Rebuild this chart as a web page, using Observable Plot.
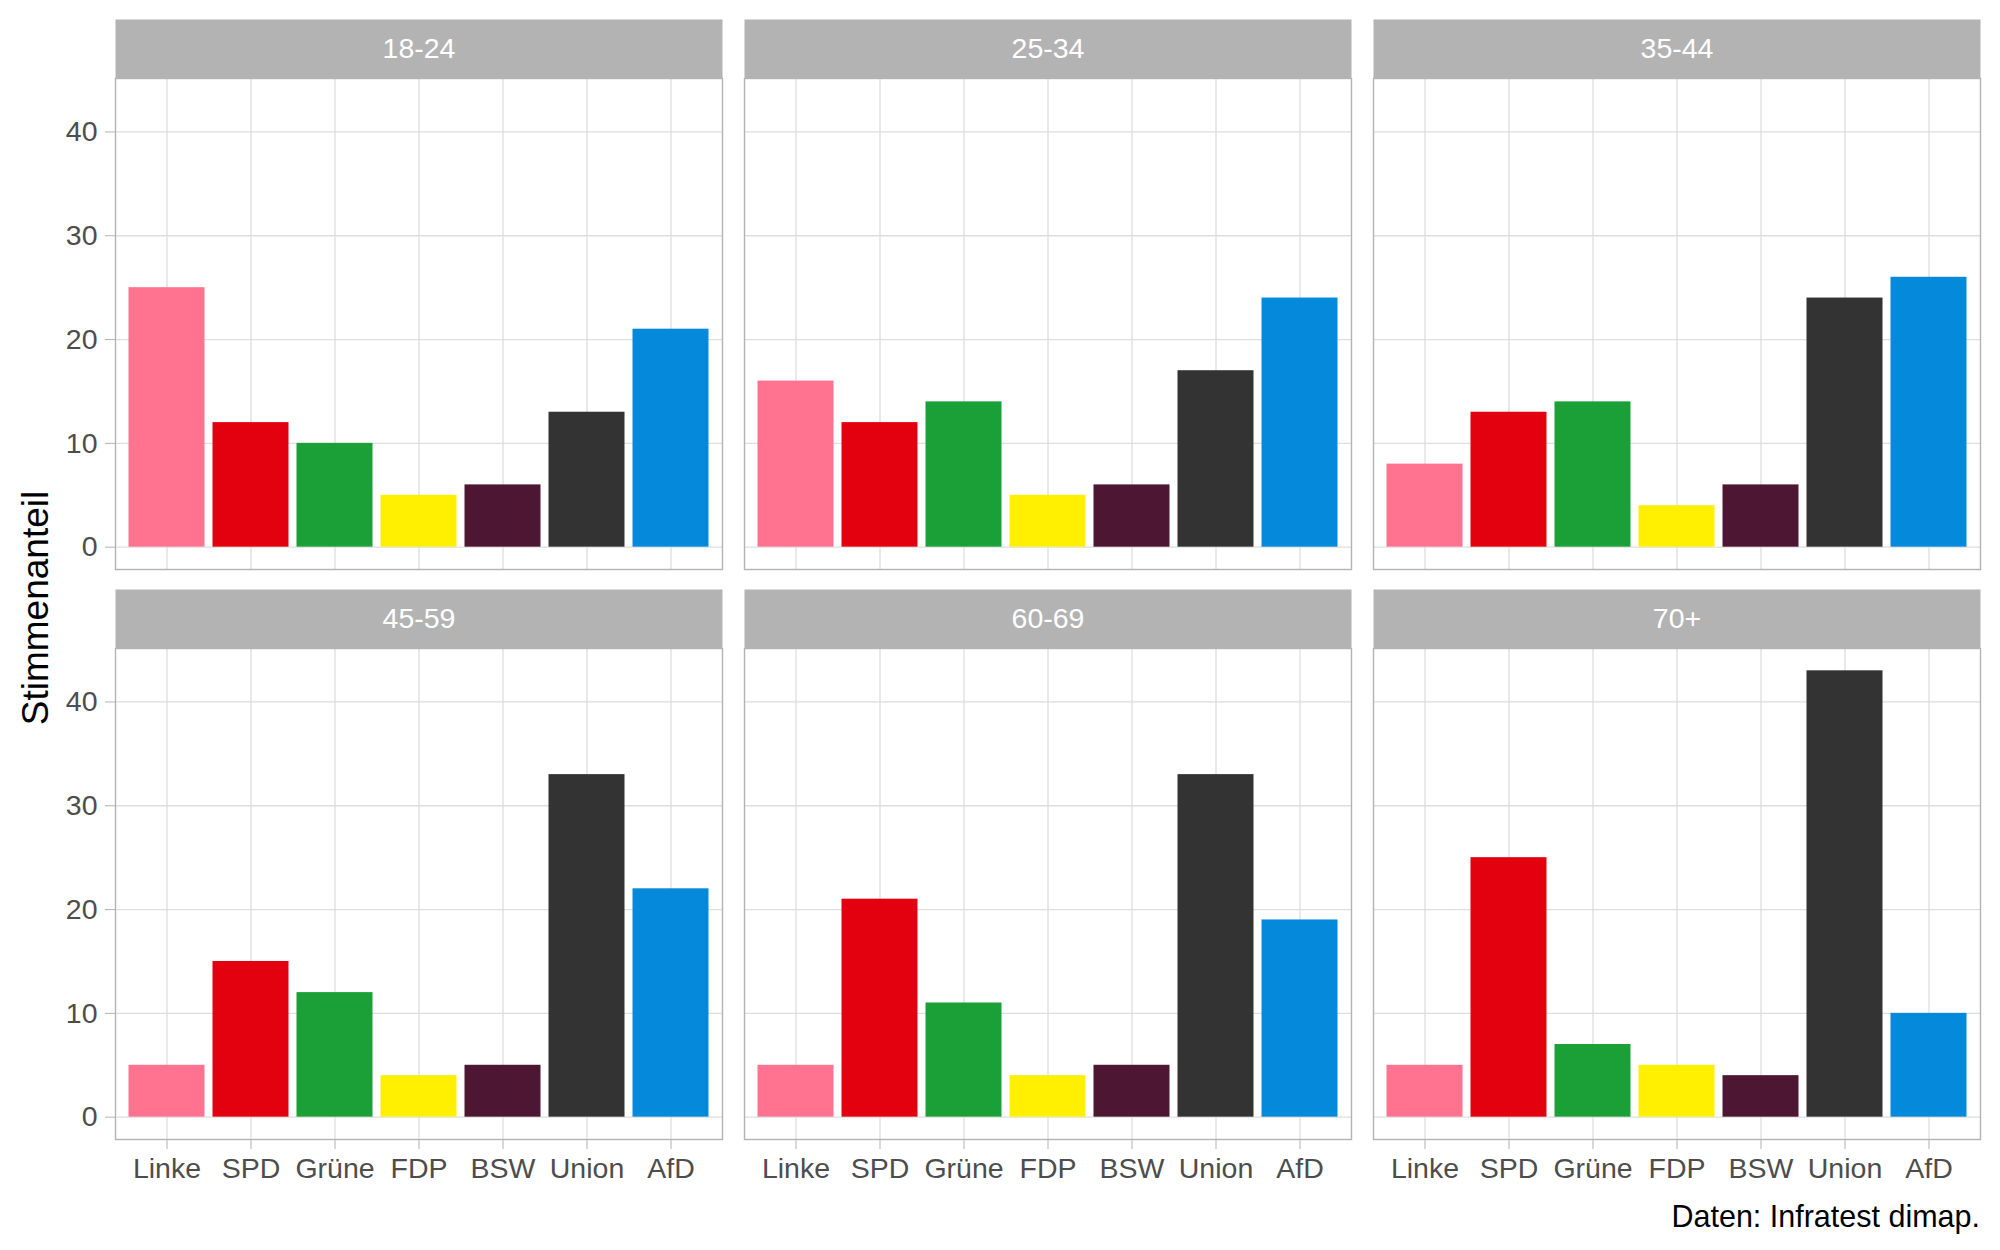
<!DOCTYPE html>
<html>
<head>
<meta charset="utf-8">
<script src="https://cdn.jsdelivr.net/npm/d3@7"></script>
<script src="https://cdn.jsdelivr.net/npm/@observablehq/plot@0.6"></script>
<style>
  body { margin: 0; background: #fff; }
  #wrap { position: relative; width: 2000px; height: 1250px; font-family: "Liberation Sans", Arial, sans-serif; }
  #chart { position: absolute; left: 0; top: 0; }
  #ytitle { position: absolute; left: 35px; top: 608px; transform: translate(-50%, -50%) rotate(-90deg);
            font-size: 37px; line-height: 1; white-space: nowrap; color: #000; }
  #caption { position: absolute; right: 20px; top: 1201px; font-size: 30.5px; line-height: 1; color: #000; white-space: nowrap; }
</style>
</head>
<body>
<div id="wrap">
  <div id="chart"></div>
  <div id="ytitle">Stimmenanteil</div>
  <div id="caption">Daten: Infratest dimap.</div>
</div>
<script>
// ---- data ----
const ageGroups = ["18-24", "25-34", "35-44", "45-59", "60-69", "70+"];
const parties = ["Linke", "SPD", "Grüne", "FDP", "BSW", "Union", "AfD"];
const partyColors = ["#FF7390", "#E3000F", "#1BA038", "#FFEF00", "#4D1632", "#333333", "#0589DB"];

const share_18_24 = [25, 12, 10, 5, 6, 13, 21];
const share_25_34 = [16, 12, 14, 5, 6, 17, 24];
const share_35_44 = [8, 13, 14, 4, 6, 24, 26];
const share_45_59 = [5, 15, 12, 4, 5, 33, 22];
const share_60_69 = [5, 21, 11, 4, 5, 33, 19];
const share_70p   = [5, 25, 7, 5, 4, 43, 10];
const shares = [share_18_24, share_25_34, share_35_44, share_45_59, share_60_69, share_70p];

const yTicks = [0, 10, 20, 30, 40];

// ---- table built from the arrays ----
const table = ageGroups.flatMap((age, i) =>
  parties.map((party, j) => ({age, party, value: shares[i][j], col: i % 3, row: Math.floor(i / 3)}))
);
const facets = ageGroups.map((age, i) => ({age, col: i % 3, row: Math.floor(i / 3)}));

// ---- layout ----
const W = 2000, H = 1196;
const mTop = 78, mBottom = 57, mLeft = 114.5, mRight = 20;
const panelH = 491, stripH = 59;
const grey70 = "#B3B3B3", grey87 = "#DEDEDE", grey30 = "#4D4D4D";
const fs = 28.5;

const chart = Plot.plot({
  width: W,
  height: H,
  marginTop: mTop,
  marginBottom: mBottom,
  marginLeft: mLeft,
  marginRight: mRight,
  style: {fontFamily: "'Liberation Sans', Arial, sans-serif", background: "white", overflow: "visible"},
  fx: {domain: [0, 1, 2], paddingInner: 0.0342, paddingOuter: 0, axis: null},
  fy: {domain: [0, 1], paddingInner: 0.1386, paddingOuter: 0, axis: null},
  x: {domain: parties, paddingInner: 0.1, paddingOuter: 0.15, label: null},
  y: {domain: [-2.15, 45.15], label: null},
  color: {domain: parties, range: partyColors},
  marks: [
    Plot.ruleY(yTicks, {stroke: grey87, strokeWidth: 1.3}),
    Plot.ruleX(parties, {stroke: grey87, strokeWidth: 1.3}),
    Plot.barY(table, {fx: "col", fy: "row", x: "party", y: "value", fill: "party"}),
    Plot.frame({stroke: grey70, strokeWidth: 1.4}),
    Plot.frame({fill: grey70, stroke: "none", insetTop: -stripH, insetBottom: panelH}),
    Plot.text(facets, {fx: "col", fy: "row", text: "age", frameAnchor: "top", lineAnchor: "middle",
                       dy: -stripH / 2, fill: "white", fontSize: fs}),
    Plot.axisY({anchor: "left", facetAnchor: "left", ticks: yTicks, tickSize: 10, tickPadding: 8,
                fontSize: fs, stroke: grey70, fill: grey30, label: null}),
    Plot.axisX({anchor: "bottom", facetAnchor: "bottom", tickSize: 10, tickPadding: 8,
                fontSize: fs, stroke: grey70, fill: grey30, label: null})
  ]
});
document.getElementById("chart").appendChild(chart);
</script>
</body>
</html>
